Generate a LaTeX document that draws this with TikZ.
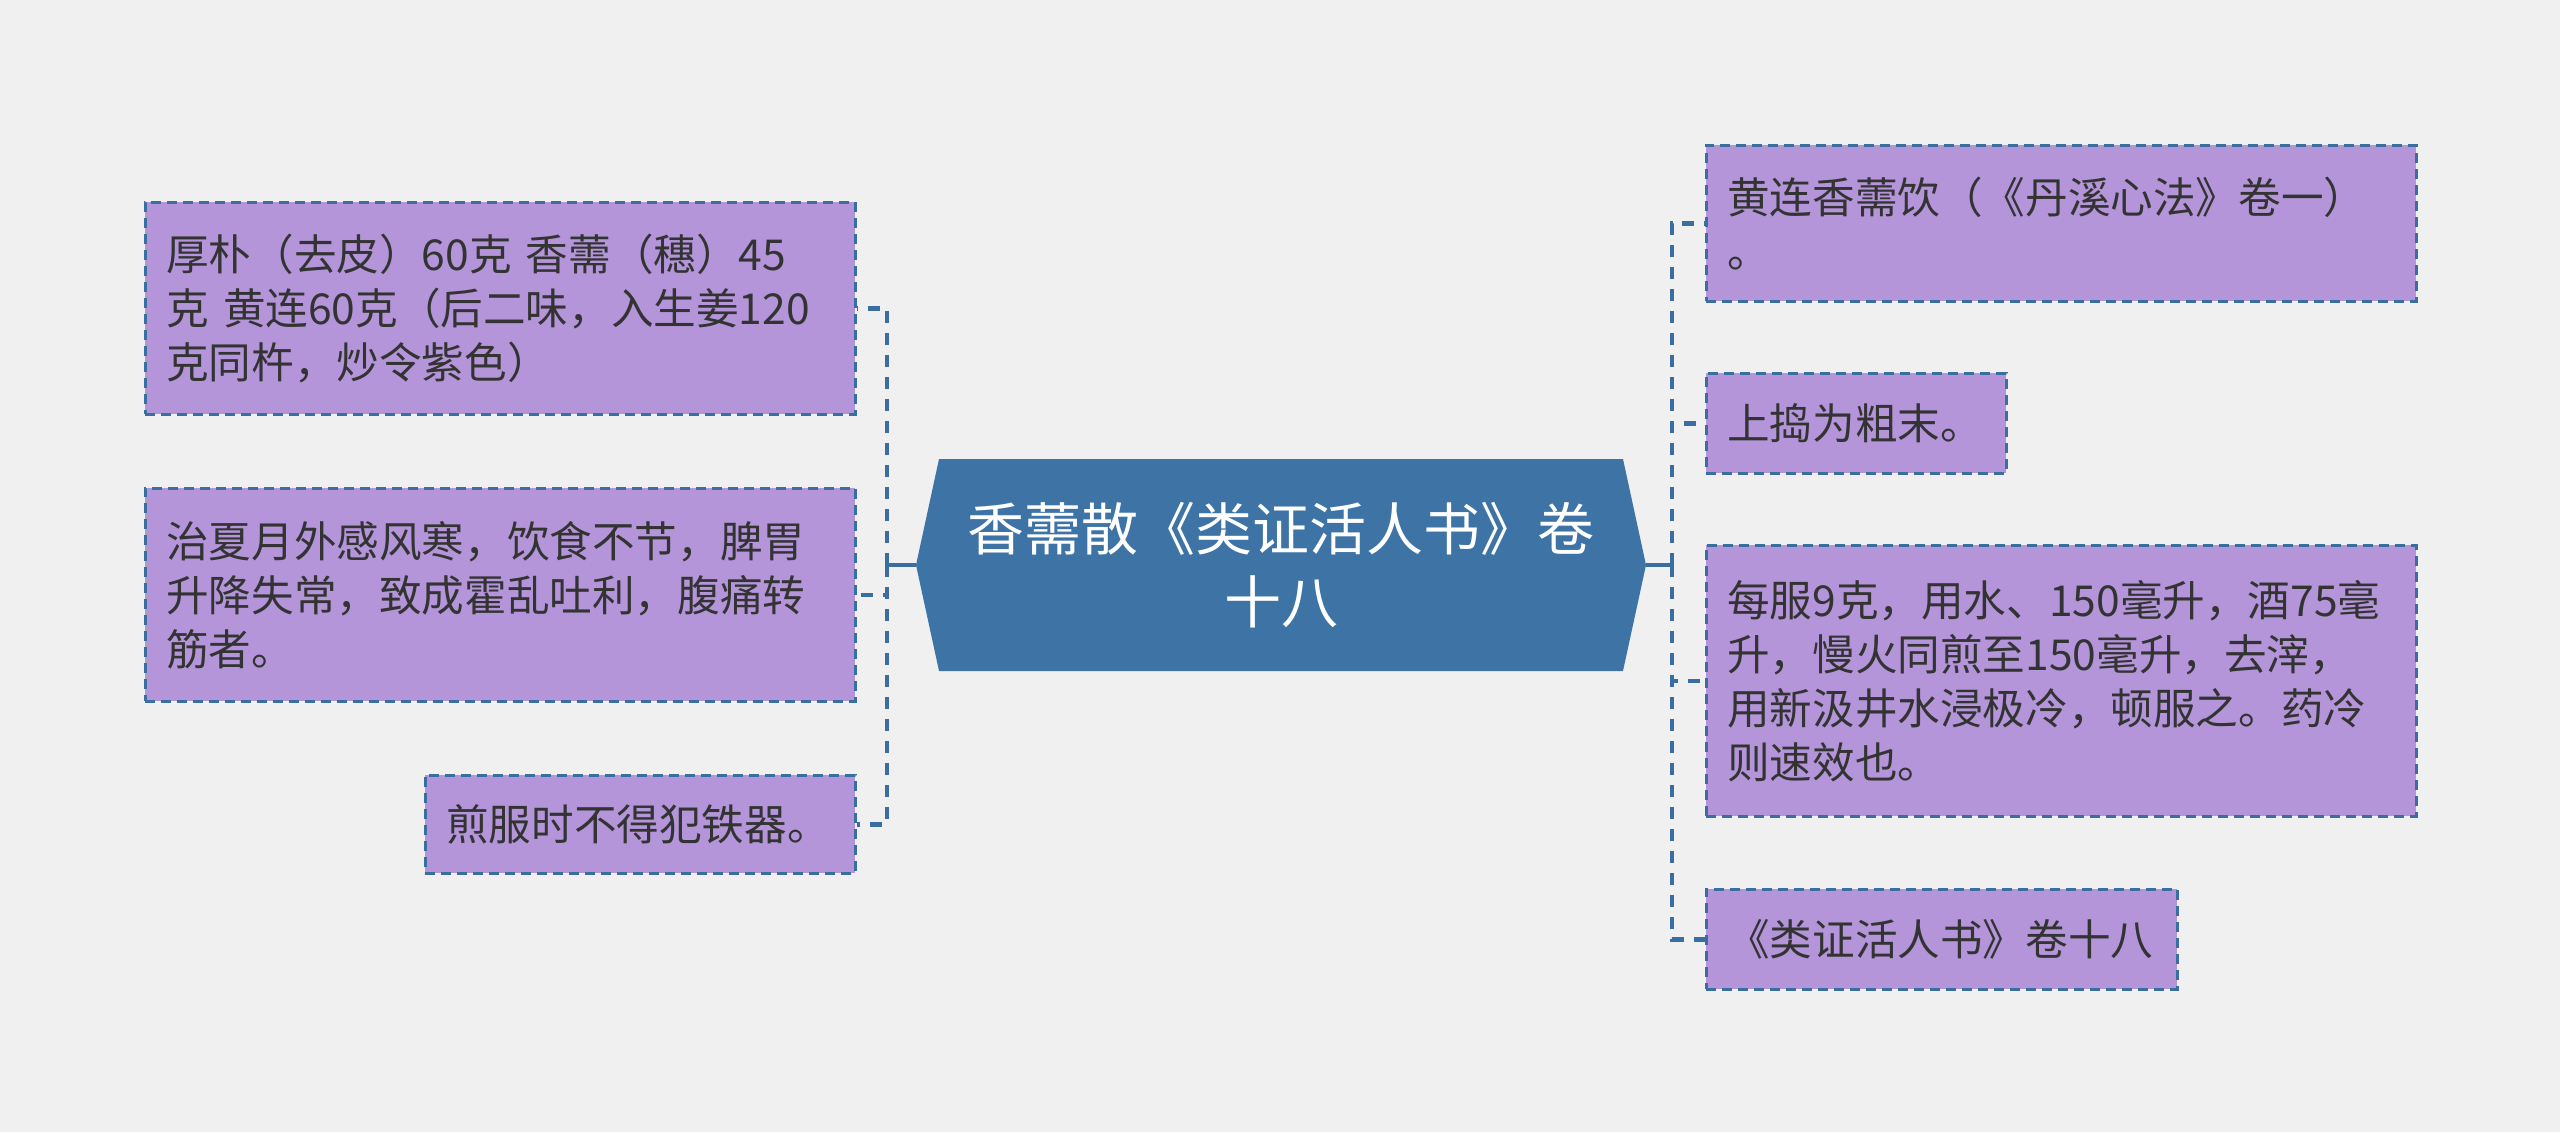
\documentclass[tikz,border=0pt]{standalone}
\usepackage{fontspec}
\setmainfont{Noto Sans CJK SC}
\usetikzlibrary{shapes.symbols}
\definecolor{bg}{HTML}{F0F0F0}
\definecolor{leaffill}{HTML}{B495D9}
\definecolor{edgeblue}{HTML}{3A6EA0}
\definecolor{hubfill}{HTML}{3D73A5}
\definecolor{txt}{HTML}{333333}
\begin{document}
\begin{tikzpicture}[x=0.5pt,y=-0.5pt,
 leaf/.style={draw=edgeblue, line width=1.3pt, dash pattern=on 5pt off 3pt, fill=leaffill, text=txt, anchor=north west, inner xsep=10.5pt, inner ysep=0pt, align=left, font=\fontsize{21.3}{27}\selectfont},
 conn/.style={draw=edgeblue, line width=2.2pt},
 dconn/.style={conn, dash pattern=on 6pt off 5pt},
 hub/.style={shape=signal, signal to=east and west, signal pointer angle=155.5, fill=hubfill, text=white, align=center, font=\fontsize{28.5}{36.5}\selectfont, minimum width=365pt, minimum height=106pt, inner sep=0pt}]

\fill[bg] (0,0) rectangle (2560,1132);

% central node
\node[hub] (hub) at (1281,565) {香薷散《类证活人书》卷\\十八};

% left leaves
\node[leaf, text width=334pt, minimum height=106pt] (l1) at (144,201)
 {厚朴（去皮）60克 香薷（穗）45\\克 黄连60克（后二味，入生姜120\\克同杵，炒令紫色）};
\node[leaf, text width=334pt, minimum height=106.5pt] (l2) at (144,487)
 {治夏月外感风寒，饮食不节，脾胃\\升降失常，致成霍乱吐利，腹痛转\\筋者。};
\node[leaf, text width=194pt, minimum height=49pt] (l3) at (424,774)
 {煎服时不得犯铁器。};

% right leaves
\node[leaf, text width=334pt, minimum height=78pt] (r1) at (1705,144)
 {黄连香薷饮（《丹溪心法》卷一）\\。};
\node[leaf, text width=129pt, minimum height=50pt] (r2) at (1705,372)
 {上捣为粗末。};
\node[leaf, text width=334pt, minimum height=135.5pt] (r3) at (1705,544)
 {每服9克，用水、150毫升，酒75毫\\升，慢火同煎至150毫升，去滓，\\用新汲井水浸极冷，顿服之。药冷\\则速效也。};
\node[leaf, text width=214.5pt, minimum height=50pt] (r4) at (1705,888)
 {《类证活人书》卷十八};

% junctions
\coordinate (lj) at (887,565);
\coordinate (rj) at (1672,565);

% connectors
\draw[conn] (hub.west) -- (lj);
\draw[dconn] (lj) |- (l1.east);
\draw[dconn] (lj) |- (l2.east);
\draw[dconn] (lj) |- (l3.east);
\draw[conn] (hub.east) -- (rj);
\draw[dconn] (rj) |- (r1.west);
\draw[dconn] (rj) |- (r2.west);
\draw[dconn] (rj) |- (r3.west);
\draw[dconn] (rj) |- (r4.west);
\end{tikzpicture}
\end{document}
